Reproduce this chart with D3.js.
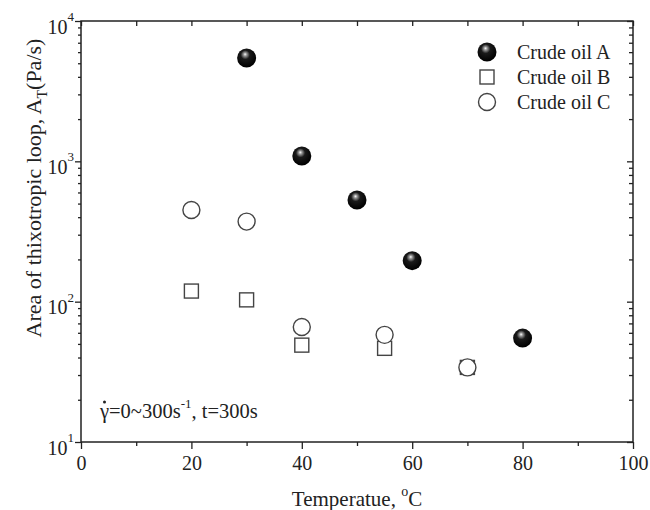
<!DOCTYPE html>
<html>
<head>
<meta charset="utf-8">
<script src="https://cdn.jsdelivr.net/npm/d3@7"></script>
<style>
  body { margin: 0; background: #fff; }
  svg text { font-family: "Liberation Serif", "Times New Roman", serif; fill: #222; }
</style>
</head>
<body>
<div id="chart"></div>
<script>
// Data
const seriesNames = ['Crude oil A', 'Crude oil B', 'Crude oil C'];
const tempA = [30, 40, 50, 60, 80];
const areaA = [5450, 1090, 530, 196, 55];
const tempB = [20, 30, 40, 55, 70];
const areaB = [119, 103, 49, 46.5, 34];
const tempC = [20, 30, 40, 55, 70];
const areaC = [450, 372, 66, 58, 34];

const xMajor = [0, 20, 40, 60, 80, 100];
const xMinor = [10, 30, 50, 70, 90];
const yMajor = [10, 100, 1000, 10000];
const yExp = ['1', '2', '3', '4'];

const W = 650, H = 510;
const margin = {top: 21, right: 17, bottom: 68, left: 81};
const width = W - margin.left - margin.right;
const height = H - margin.top - margin.bottom;

const svg = d3.select('#chart').append('svg')
    .attr('width', W)
    .attr('height', H);

// sphere look for crude oil A
const defs = svg.append('defs');
const grad = defs.append('radialGradient')
    .attr('id', 'ball')
    .attr('cx', '45%').attr('cy', '38%').attr('r', '60%')
    .attr('fx', '42%').attr('fy', '30%');
grad.append('stop').attr('offset', '0%').attr('stop-color', '#ffffff');
grad.append('stop').attr('offset', '14%').attr('stop-color', '#9a9a9a');
grad.append('stop').attr('offset', '40%').attr('stop-color', '#1a1a1a');
grad.append('stop').attr('offset', '100%').attr('stop-color', '#000');

const g = svg.append('g')
    .attr('transform', `translate(${margin.left}, ${margin.top})`);

const x = d3.scaleLinear().domain([0, 100]).range([0, width]);
const y = d3.scaleLog().domain([10, 10000]).range([height, 0]);

// minor log ticks 2..9 per decade
const yMinor = [];
[10, 100, 1000].forEach(d => {
    for (let k = 2; k <= 9; k++) yMinor.push(d * k);
});

// frame
g.append('rect')
    .attr('width', width).attr('height', height)
    .attr('fill', 'none').attr('stroke', '#222').attr('stroke-width', 1.5);

function styleAxis(sel) {
    sel.select('.domain').remove();
    sel.selectAll('line').attr('stroke', '#222').attr('stroke-width', 1.3);
}

// bottom axis (ticks outward)
g.append('g')
    .attr('transform', `translate(0, ${height})`)
    .call(d3.axisBottom(x).tickValues(xMajor).tickSize(7).tickPadding(7).tickFormat(d3.format('d')))
    .call(styleAxis)
    .selectAll('text')
    .attr('font-size', '20px')
    .attr('font-family', '"Liberation Serif", serif')
    .attr('fill', '#222');
g.append('g')
    .attr('transform', `translate(0, ${height})`)
    .call(d3.axisBottom(x).tickValues(xMinor).tickSize(4).tickFormat(''))
    .call(styleAxis);

// top axis (ticks inward)
g.append('g')
    .call(d3.axisBottom(x).tickValues(xMajor.concat(xMinor)).tickSize(5).tickFormat(''))
    .call(styleAxis);

// left axis (ticks outward)
const left = g.append('g')
    .call(d3.axisLeft(y).tickValues(yMajor).tickSize(6).tickPadding(6).tickFormat(''))
    .call(styleAxis);
left.selectAll('.tick text').each(function(d, i) {
    const t = d3.select(this)
        .attr('font-size', '20px')
        .attr('font-family', '"Liberation Serif", serif')
        .attr('fill', '#222')
        .attr('text-anchor', 'end')
        .attr('x', -7)
        .attr('dy', '0.6em');
    t.append('tspan').text('10');
    t.append('tspan').attr('font-size', '13px').attr('dy', '-0.95em').text(yExp[i]);
});
g.append('g')
    .call(d3.axisLeft(y).tickValues(yMinor).tickSize(3).tickFormat(''))
    .call(styleAxis);

// right axis (ticks inward)
g.append('g')
    .attr('transform', `translate(${width}, 0)`)
    .call(d3.axisRight(y).tickValues(yMajor).tickSize(-6).tickFormat(''))
    .call(styleAxis);
g.append('g')
    .attr('transform', `translate(${width}, 0)`)
    .call(d3.axisRight(y).tickValues(yMinor).tickSize(-4).tickFormat(''))
    .call(styleAxis);

// markers
const sq = 14, rad = 8.5;
const zip = (xs, ys) => xs.map((t, i) => ({t: t, v: ys[i]}));

g.selectAll('rect.oilB')
    .data(zip(tempB, areaB))
    .enter().append('rect')
    .attr('class', 'oilB')
    .attr('x', d => x(d.t) - sq / 2)
    .attr('y', d => y(d.v) - sq / 2)
    .attr('width', sq).attr('height', sq)
    .attr('fill', '#fff').attr('stroke', '#444').attr('stroke-width', 1.4);

g.selectAll('circle.oilC')
    .data(zip(tempC, areaC))
    .enter().append('circle')
    .attr('class', 'oilC')
    .attr('cx', d => x(d.t))
    .attr('cy', d => y(d.v))
    .attr('r', rad)
    .attr('fill', '#fff').attr('stroke', '#444').attr('stroke-width', 1.4);

g.selectAll('circle.oilA')
    .data(zip(tempA, areaA))
    .enter().append('circle')
    .attr('class', 'oilA')
    .attr('cx', d => x(d.t))
    .attr('cy', d => y(d.v))
    .attr('r', 9.5)
    .attr('fill', 'url(#ball)');

// legend
const legend = g.append('g').attr('transform', 'translate(406, 31)');
seriesNames.forEach((name, i) => {
    const row = legend.append('g').attr('transform', `translate(0, ${i * 25})`);
    if (i === 0) {
        row.append('circle').attr('r', 9.5).attr('fill', 'url(#ball)');
    } else if (i === 1) {
        row.append('rect').attr('x', -sq / 2).attr('y', -sq / 2)
            .attr('width', sq).attr('height', sq)
            .attr('fill', '#fff').attr('stroke', '#444').attr('stroke-width', 1.4);
    } else {
        row.append('circle').attr('r', rad)
            .attr('fill', '#fff').attr('stroke', '#444').attr('stroke-width', 1.4);
    }
    row.append('text')
        .attr('x', 30).attr('dy', '0.35em')
        .attr('font-size', '20px')
        .text(name);
});

// annotation: shear rate range (gamma with a dot above)
const noteX = 19, noteY = height - 24;
const note = g.append('text')
    .attr('x', noteX).attr('y', noteY)
    .attr('font-size', '20.5px');
note.append('tspan').text('\u03B3=0~300s');
note.append('tspan').attr('font-size', '13px').attr('dy', '-0.8em').text('-1');
note.append('tspan').attr('dy', '0.52em').text(', t=300s');
g.append('circle')
    .attr('cx', noteX + 4.5).attr('cy', noteY - 16)
    .attr('r', 1.5).attr('fill', '#222');

// axis titles
const xt = svg.append('text')
    .attr('x', margin.left + width / 2)
    .attr('y', H - 4)
    .attr('text-anchor', 'middle')
    .attr('font-size', '21px');
xt.append('tspan').text('Temperatue, ');
xt.append('tspan').attr('font-size', '14px').attr('dy', '-0.7em').text('o');
xt.append('tspan').attr('dy', '0.45em').text('C');

const yt = svg.append('text')
    .attr('transform', `translate(41, 188) rotate(-90)`)
    .attr('text-anchor', 'middle')
    .attr('font-size', '22px');
yt.append('tspan').text('Area of thixotropic loop, A');
yt.append('tspan').attr('font-size', '14px').attr('dy', '0.4em').text('T');
yt.append('tspan').attr('dy', '-0.27em').text('(Pa/s)');
</script>
</body>
</html>
